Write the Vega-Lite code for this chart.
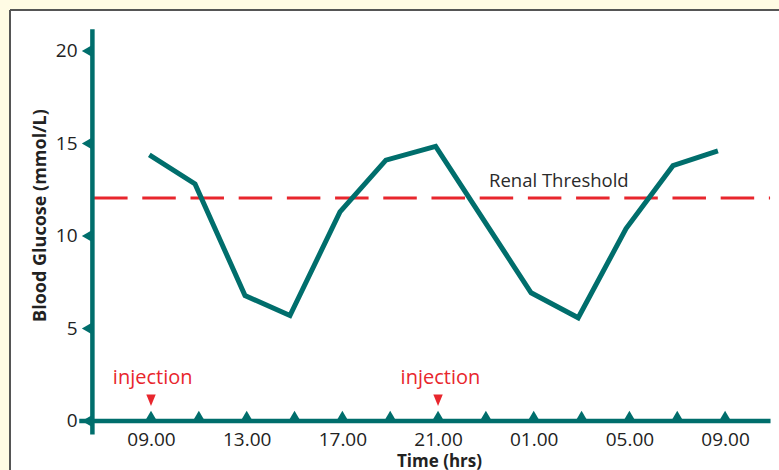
{
  "$schema": "https://vega.github.io/schema/vega-lite/v6.json",
  "width": 769,
  "height": 460,
  "autosize": {"type": "none"},
  "padding": {"left": 10, "top": 10, "right": 0, "bottom": 0},
  "background": "#fffbe4",
  "config": {"view": {"fill": "white", "stroke": null}, "font": "Open Sans"},
  "datasets": {
    "glucose": [
      {"x": -0.07, "y": 14.39},
      {"x": 1.84, "y": 12.81},
      {"x": 3.93, "y": 6.78},
      {"x": 5.81, "y": 5.7},
      {"x": 7.9, "y": 11.3},
      {"x": 9.82, "y": 14.1},
      {"x": 11.9, "y": 14.84},
      {"x": 15.89, "y": 6.93},
      {"x": 17.86, "y": 5.58},
      {"x": 19.86, "y": 10.4},
      {"x": 21.82, "y": 13.8},
      {"x": 23.7, "y": 14.6}
    ],
    "frame": [
      {"x": -5.895, "x2": -5.895, "y": -2.649, "y2": 22.216},
      {"x": -5.895, "x2": 26.254, "y": 22.216, "y2": 22.216}
    ],
    "axislines": [
      {"x": -2.45, "x2": -2.45, "y": -0.73, "y2": 21.18},
      {"x": -3.0, "x2": 25.9, "y": 0, "y2": 0}
    ],
    "threshold": [{"x": -2.38, "x2": 25.88, "y": 12.06}],
    "xticks": [
      {"x": 0, "y": 0}, {"x": 2, "y": 0}, {"x": 4, "y": 0}, {"x": 6, "y": 0},
      {"x": 8, "y": 0}, {"x": 10, "y": 0}, {"x": 12, "y": 0}, {"x": 14, "y": 0},
      {"x": 16, "y": 0}, {"x": 18, "y": 0}, {"x": 20, "y": 0}, {"x": 22, "y": 0},
      {"x": 24, "y": 0}
    ],
    "yticks": [
      {"x": -2.45, "y": 0}, {"x": -2.45, "y": 5}, {"x": -2.45, "y": 10},
      {"x": -2.45, "y": 15}, {"x": -2.45, "y": 20}
    ],
    "injections": [{"x": 0, "y": 1.12}, {"x": 12, "y": 1.12}],
    "injlabels": [
      {"x": 0.07, "y": 2.0, "label": "injection"},
      {"x": 12.1, "y": 2.0, "label": "injection"}
    ],
    "renal": [{"x": 17.05, "y": 12.65, "label": "Renal Threshold"}]
  },
  "encoding": {
    "x": {
      "field": "x",
      "type": "quantitative",
      "scale": {"domain": [-5.895, 26.254], "nice": false, "zero": false},
      "axis": {
        "values": [0, 4, 8, 12, 16, 20, 24],
        "labelExpr": "pad(toString((datum.value + 9) % 24), 2, '0', 'left') + '.00'",
        "offset": -49,
        "domain": false,
        "ticks": false,
        "grid": false,
        "labelFont": "Open Sans",
        "labelFontSize": 19,
        "labelColor": "#222222",
        "labelPadding": 9,
        "title": "Time (hrs)",
        "titleFont": "Open Sans",
        "titleFontSize": 17,
        "titleFontWeight": "bold",
        "titleColor": "#222222",
        "titleX": 429,
        "titleY": 45,
        "titleBaseline": "alphabetic"
      }
    },
    "y": {
      "field": "y",
      "type": "quantitative",
      "scale": {"domain": [-2.649, 22.216], "nice": false, "zero": false},
      "axis": {
        "values": [0, 5, 10, 15, 20],
        "offset": -82,
        "domain": false,
        "ticks": false,
        "grid": false,
        "labelFont": "Open Sans",
        "labelFontSize": 19,
        "labelColor": "#222222",
        "labelPadding": 15,
        "title": "Blood Glucose (mmol/L)",
        "titleFont": "Open Sans",
        "titleFontSize": 18,
        "titleFontWeight": "bold",
        "titleColor": "#222222",
        "titleX": -47,
        "titleY": 205,
        "titleBaseline": "alphabetic"
      }
    }
  },
  "layer": [
    {
      "data": {"name": "frame"},
      "mark": {"type": "rule", "color": "#555555", "strokeWidth": 2},
      "encoding": {"x2": {"field": "x2"}, "y2": {"field": "y2"}}
    },
    {
      "data": {"name": "threshold"},
      "mark": {"type": "rule", "color": "#e8262d", "strokeWidth": 3, "strokeDash": [33.5, 14.7]},
      "encoding": {"x2": {"field": "x2"}}
    },
    {
      "data": {"name": "axislines"},
      "mark": {"type": "rule", "color": "#006e6c", "strokeWidth": 4.5},
      "encoding": {"x2": {"field": "x2"}, "y2": {"field": "y2"}}
    },
    {
      "data": {"name": "glucose"},
      "mark": {"type": "line", "color": "#006e6c", "strokeWidth": 5, "strokeJoin": "miter"},
      "encoding": {}
    },
    {
      "data": {"name": "xticks"},
      "mark": {"type": "point", "shape": "triangle-up", "filled": true, "color": "#006e6c", "size": 100, "opacity": 1, "yOffset": -6}
    },
    {
      "data": {"name": "yticks"},
      "mark": {"type": "point", "shape": "triangle-left", "filled": true, "color": "#006e6c", "size": 110, "opacity": 1, "xOffset": -6}
    },
    {
      "data": {"name": "injections"},
      "mark": {"type": "point", "shape": "M-0.9,-1.1L0.9,-1.1L0,1.1Z", "filled": true, "color": "#e8262d", "size": 110, "opacity": 1}
    },
    {
      "data": {"name": "injlabels"},
      "mark": {"type": "text", "color": "#e8262d", "font": "Open Sans", "fontSize": 20, "baseline": "alphabetic", "align": "center"},
      "encoding": {"text": {"field": "label"}}
    },
    {
      "data": {"name": "renal"},
      "mark": {"type": "text", "color": "#2a2a2a", "font": "Open Sans", "fontSize": 18.5, "baseline": "alphabetic", "align": "center"},
      "encoding": {"text": {"field": "label"}}
    }
  ]
}
